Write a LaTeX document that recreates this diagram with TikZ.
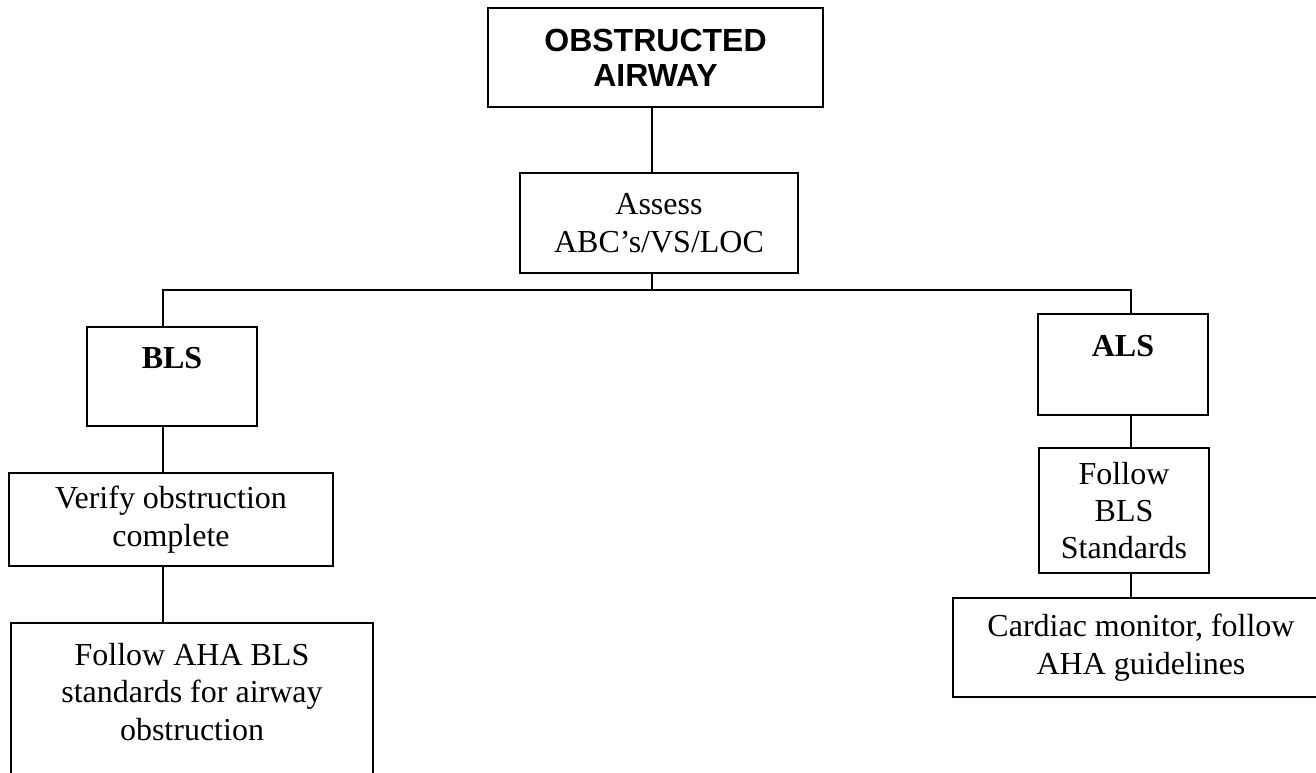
\documentclass[tikz,border=0pt]{standalone}
\usepackage{fontspec}
\setmainfont{Liberation Serif}
\newfontfamily\headfont{Liberation Sans}
\begin{document}
\begin{tikzpicture}[x=0.5pt,y=-0.5pt,
  flowbox/.style={draw, line width=1pt, inner sep=0pt, align=center,
    font=\fontsize{16pt}{18.7pt}\selectfont},
  link/.style={line width=1pt}]
\useasboundingbox (0,0) rectangle (1316,772);
\node[flowbox, minimum width=167.5pt, minimum height=49.5pt,
  font=\headfont\bfseries\fontsize{16pt}{17.5pt}\selectfont] (top) at (655.5,57.5) {OBSTRUCTED\\AIRWAY};
\node[flowbox, minimum width=139pt, minimum height=50pt] (assess) at (659,223) {Assess\\ABC’s/VS/LOC};
\node[flowbox, minimum width=85pt, minimum height=49.5pt] (bls) at (172,376.5) {\textbf{BLS}\\~};
\node[flowbox, minimum width=85pt, minimum height=50.5pt] (als) at (1123,364.5) {\textbf{ALS}\\~};
\node[flowbox, minimum width=162pt, minimum height=46.5pt] (verify) at (171,519.5) {Verify obstruction\\complete};
\node[flowbox, minimum width=181pt, minimum height=87.5pt] (aha) at (192,710.5) {Follow AHA BLS\\standards for airway\\obstruction\\~};
\node[flowbox, minimum width=85pt, minimum height=62.5pt] (fbls) at (1124,510.5) {Follow\\BLS\\Standards};
\node[flowbox, minimum width=188pt, minimum height=49.5pt] (cardiac) at (1141,647.5) {Cardiac monitor, follow\\AHA guidelines};
\coordinate (trunk) at (652,290);
\coordinate (lj) at (163,290);
\coordinate (rj) at (1131,290);
\draw[link] (top.south -| trunk) -- (assess.north -| trunk);
\draw[link] (assess.south -| trunk) -- (trunk);
\draw[link, line cap=rect] (lj) -- (rj);
\draw[link] (lj) -- (bls.north -| lj);
\draw[link] (bls.south -| lj) -- (verify.north -| lj);
\draw[link] (verify.south -| lj) -- (aha.north -| lj);
\draw[link] (rj) -- (als.north -| rj);
\draw[link] (als.south -| rj) -- (fbls.north -| rj);
\draw[link] (fbls.south -| rj) -- (cardiac.north -| rj);
\end{tikzpicture}
\end{document}
